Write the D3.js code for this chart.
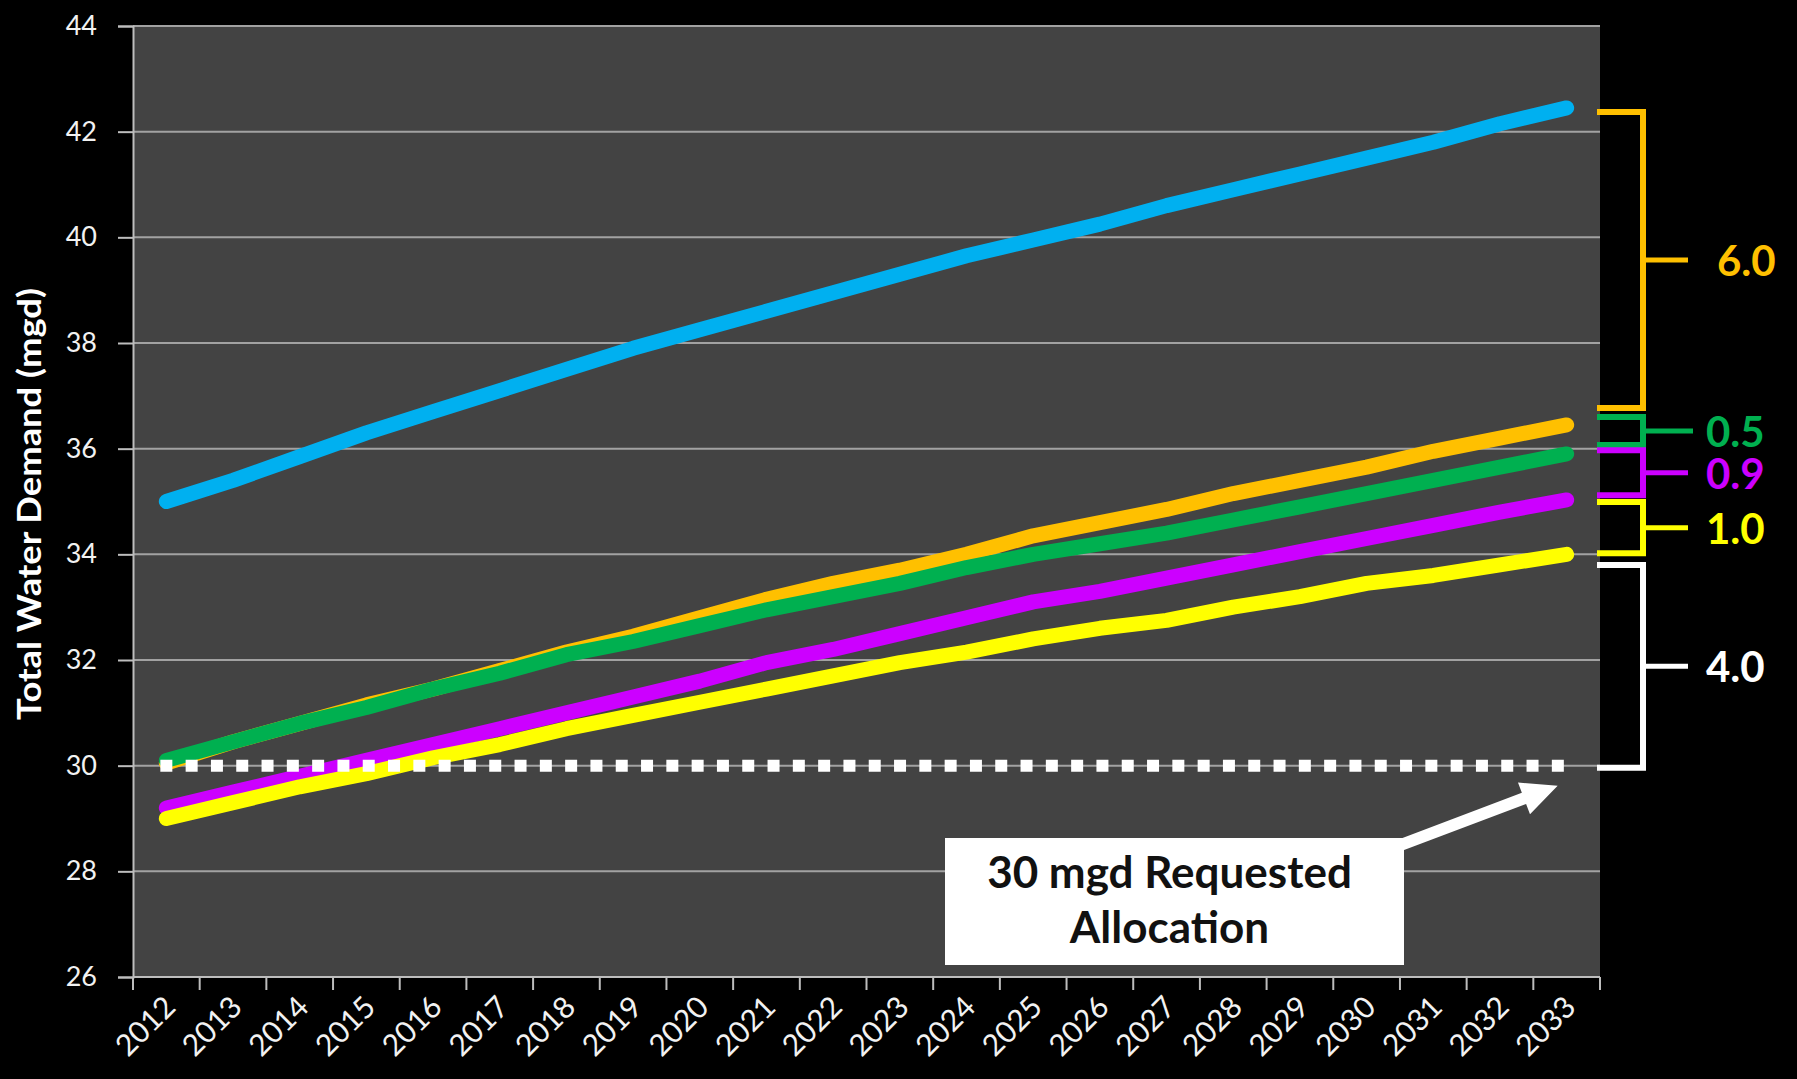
<!DOCTYPE html>
<html>
<head>
<meta charset="utf-8">
<script src="https://cdn.jsdelivr.net/npm/d3@7"></script>
<style>
  html, body { margin: 0; padding: 0; background: #000; }
  text { font-family: Lato, "Open Sans", sans-serif; }
</style>
</head>
<body>
<div id="chart-container"></div>
<script>
// water demand projections 2012-2033, dark excel-style line chart
// brackets on the right show the gaps between scenarios at 2033

const years = ["2012","2013","2014","2015","2016","2017","2018","2019","2020","2021","2022",
               "2023","2024","2025","2026","2027","2028","2029","2030","2031","2032","2033"];

const blueSeries   = [35.0, 35.4, 35.85, 36.3, 36.7, 37.1, 37.5, 37.9, 38.25, 38.6, 38.95,
                      39.3, 39.65, 39.95, 40.25, 40.6, 40.9, 41.2, 41.5, 41.8, 42.15, 42.45];
const orangeSeries = [30.05, 30.45, 30.8, 31.15, 31.45, 31.8, 32.15, 32.45, 32.8, 33.15, 33.45,
                      33.7, 34.0, 34.35, 34.6, 34.85, 35.15, 35.4, 35.65, 35.95, 36.2, 36.45];
const greenSeries  = [30.1, 30.45, 30.8, 31.1, 31.45, 31.75, 32.1, 32.35, 32.65, 32.95, 33.2,
                      33.45, 33.75, 34.0, 34.2, 34.4, 34.65, 34.9, 35.15, 35.4, 35.65, 35.9];
const purpleSeries = [29.2, 29.5, 29.8, 30.1, 30.4, 30.7, 31.0, 31.3, 31.6, 31.95, 32.2,
                      32.5, 32.8, 33.1, 33.3, 33.55, 33.8, 34.05, 34.3, 34.55, 34.8, 35.03];
const yellowSeries = [29.0, 29.3, 29.6, 29.85, 30.15, 30.4, 30.7, 30.95, 31.2, 31.45, 31.7,
                      31.95, 32.15, 32.4, 32.6, 32.75, 33.0, 33.2, 33.45, 33.6, 33.8, 34.0];

const allocation = 30;
const yTicks = [26, 28, 30, 32, 34, 36, 38, 40, 42, 44];

// difference brackets at the right edge
const bracketLabels = ["6.0", "0.5", "0.9", "1.0", "4.0"];
const bracketTop    = [42.37, 36.6, 35.97, 34.99, 33.8];
const bracketBottom = [36.77, 36.07, 35.12, 34.02, 29.96];
const bracketColors = ["#FFC000", "#00B050", "#CC00FF", "#FFFF00", "#FFFFFF"];

const calloutLines = ["30 mgd Requested", "Allocation"];

const svgWidth = 1797;
const svgHeight = 1079;
const margin = { top: 26, right: 197, bottom: 102, left: 133 };
const width = svgWidth - margin.left - margin.right;
const height = svgHeight - margin.top - margin.bottom;

const svg = d3.select("#chart-container")
    .append("svg")
    .attr("width", svgWidth)
    .attr("height", svgHeight)
    .style("background", "#000");

const chart = svg.append("g")
    .attr("transform", `translate(${margin.left},${margin.top})`);

const scaleX = d3.scaleBand()
    .domain(years)
    .range([0, width])
    .padding(0);

const scaleY = d3.scaleLinear()
    .domain([26, 44])
    .range([height, 0]);

const xc = d => scaleX(d) + scaleX.bandwidth() / 2;

// plot background
chart.append("rect")
    .attr("width", width)
    .attr("height", height)
    .attr("fill", "#434343");

// gridlines
chart.append("g")
    .selectAll("line")
    .data(yTicks.slice(1))
    .enter()
    .append("line")
    .attr("x1", 0)
    .attr("x2", width)
    .attr("y1", d => scaleY(d))
    .attr("y2", d => scaleY(d))
    .attr("stroke", "#a2a2a2")
    .attr("stroke-width", 2);

// y axis
const yAxis = chart.append("g")
    .call(d3.axisLeft(scaleY).tickValues(yTicks).tickSize(15).tickPadding(21));
yAxis.select(".domain").attr("stroke", "#bdbdbd").attr("stroke-width", 2);
yAxis.selectAll(".tick line").attr("stroke", "#bdbdbd").attr("stroke-width", 2);
yAxis.selectAll("text")
    .attr("fill", "#f2f2f2")
    .attr("font-size", "27px")
    .style("font-family", "Lato, sans-serif");

// x axis, ticks on category boundaries
const xAxis = chart.append("g")
    .attr("transform", `translate(0,${height})`);
xAxis.append("line")
    .attr("x1", 0).attr("x2", width)
    .attr("stroke", "#bdbdbd").attr("stroke-width", 2);
xAxis.selectAll(".xtick")
    .data(years.concat(["end"]))
    .enter()
    .append("line")
    .attr("class", "xtick")
    .attr("x1", (d, i) => i < years.length ? scaleX(d) : width)
    .attr("x2", (d, i) => i < years.length ? scaleX(d) : width)
    .attr("y1", 0)
    .attr("y2", 13)
    .attr("stroke", "#bdbdbd")
    .attr("stroke-width", 2);
xAxis.selectAll(".xlabel")
    .data(years)
    .enter()
    .append("text")
    .attr("class", "xlabel")
    .attr("transform", d => `translate(${xc(d) - 4},${17}) rotate(-45)`)
    .attr("text-anchor", "end")
    .attr("dy", "0.7em")
    .attr("fill", "#f2f2f2")
    .attr("font-size", "30px")
    .text(d => d);

// y axis title
svg.append("text")
    .attr("transform", `translate(33,504) rotate(-90)`)
    .attr("text-anchor", "middle")
    .attr("dominant-baseline", "middle")
    .attr("fill", "#fff")
    .attr("font-size", "33px")
    .attr("font-weight", "bold")
    .attr("textLength", 432)
    .attr("lengthAdjust", "spacingAndGlyphs")
    .text("Total Water Demand (mgd)");

// series lines
const line = d3.line()
    .x((d, i) => xc(years[i]))
    .y(d => scaleY(d));

const series = [
    { values: blueSeries, color: "#00B0F0" },
    { values: orangeSeries, color: "#FFC000" },
    { values: greenSeries, color: "#00B050" },
    { values: purpleSeries, color: "#CC00FF" },
    { values: yellowSeries, color: "#FFFF00" }
];

chart.selectAll(".series")
    .data(series)
    .enter()
    .append("path")
    .attr("class", "series")
    .attr("d", d => line(d.values))
    .attr("fill", "none")
    .attr("stroke", d => d.color)
    .attr("stroke-width", 15)
    .attr("stroke-linecap", "round")
    .attr("stroke-linejoin", "round");

// 30 mgd allocation, square dots
chart.append("line")
    .attr("x1", xc(years[0]) - 6)
    .attr("x2", xc(years[years.length - 1]) + 6)
    .attr("y1", scaleY(allocation))
    .attr("y2", scaleY(allocation))
    .attr("stroke", "#fff")
    .attr("stroke-width", 12)
    .attr("stroke-dasharray", "12 13.3");

// brackets
const bx0 = width - 3;
const bxv = width + 43;
const bxt = width + 88;

const brackets = chart.selectAll(".bracket")
    .data(bracketLabels)
    .enter()
    .append("g")
    .attr("class", "bracket");

brackets.append("path")
    .attr("d", (d, i) => `M${bx0},${scaleY(bracketTop[i])}H${bxv}V${scaleY(bracketBottom[i])}H${bx0}`)
    .attr("fill", "none")
    .attr("stroke", (d, i) => bracketColors[i])
    .attr("stroke-width", 6);

brackets.append("line")
    .attr("x1", bxv)
    .attr("x2", (d, i) => i === 1 ? bxt + 5 : bxt)
    .attr("y1", (d, i) => scaleY((bracketTop[i] + bracketBottom[i]) / 2))
    .attr("y2", (d, i) => scaleY((bracketTop[i] + bracketBottom[i]) / 2))
    .attr("stroke", (d, i) => bracketColors[i])
    .attr("stroke-width", 5);

brackets.append("text")
    .attr("x", (d, i) => i === 0 ? bxt + 29 : bxt + 18)
    .attr("y", (d, i) => scaleY((bracketTop[i] + bracketBottom[i]) / 2))
    .attr("dominant-baseline", "central")
    .attr("fill", (d, i) => bracketColors[i])
    .attr("font-size", "42px")
    .attr("font-weight", "bold")
    .text(d => d);

// callout box with arrow to the dotted line
const boxX = 812, boxY = 812, boxW = 459, boxH = 127;
const callout = chart.append("g");

const tip = [xc(years[years.length - 1]) - 9, scaleY(allocation) + 20];
const tail = [boxX + boxW - 6, boxY + 8];
const ang = Math.atan2(tip[1] - tail[1], tip[0] - tail[0]);
const len = Math.hypot(tip[0] - tail[0], tip[1] - tail[1]);
const sw = 6, hl = 36, hw = 17;
const arrowPts = [
    [0, -sw], [len - hl, -sw], [len - hl, -hw], [len, 0],
    [len - hl, hw], [len - hl, sw], [0, sw]
].map(p => [
    tail[0] + p[0] * Math.cos(ang) - p[1] * Math.sin(ang),
    tail[1] + p[0] * Math.sin(ang) + p[1] * Math.cos(ang)
]);
callout.append("polygon")
    .attr("points", arrowPts.map(p => p.join(",")).join(" "))
    .attr("fill", "#fff");

callout.append("rect")
    .attr("x", boxX)
    .attr("y", boxY)
    .attr("width", boxW)
    .attr("height", boxH)
    .attr("fill", "#fff");

callout.selectAll(".cl")
    .data(calloutLines)
    .enter()
    .append("text")
    .attr("class", "cl")
    .attr("x", boxX + boxW / 2 - 5)
    .attr("y", (d, i) => boxY + 50 + i * 55)
    .attr("text-anchor", "middle")
    .attr("fill", "#111")
    .attr("font-size", "44px")
    .attr("font-weight", "bold")
    .text(d => d);
</script>
</body>
</html>
